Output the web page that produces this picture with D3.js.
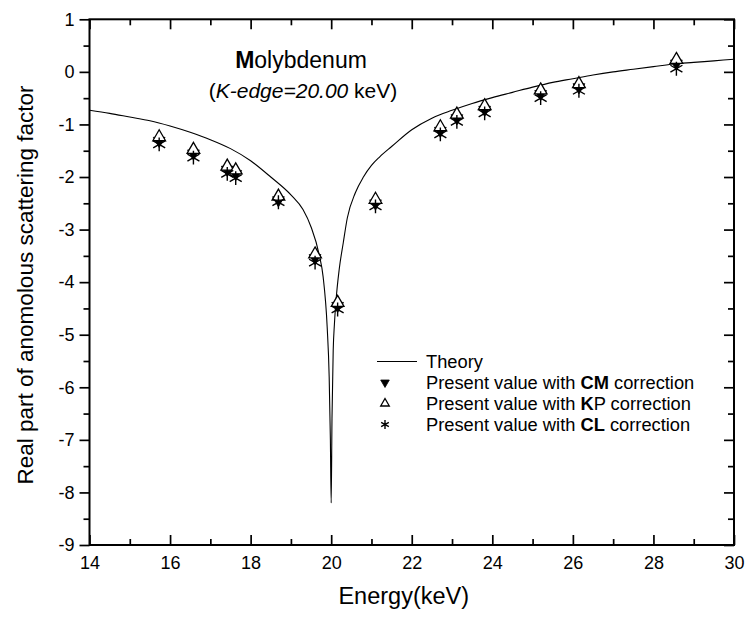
<!DOCTYPE html>
<html>
<head>
<meta charset="utf-8">
<script src="https://cdn.jsdelivr.net/npm/d3@7"></script>
<style>
  body { margin: 0; background: #fff; }
  svg text { font-family: "Liberation Sans", Arial, Helvetica, sans-serif; fill: #000; }
</style>
</head>
<body>
<svg id="chart" width="751" height="618"></svg>
<script>
// Measured energies (keV)
const energies = [15.73, 16.58, 17.42, 17.63, 18.69, 19.60, 20.16, 21.10, 22.71, 23.12, 23.81, 25.20, 26.15, 28.57];
// f' values with the three corrections
const cmValues = [-1.31, -1.55, -1.86, -1.94, -2.44, -3.54, -4.45, -2.50, -1.12, -0.88, -0.72, -0.42, -0.29, 0.16];
const kpValues = [-1.24, -1.48, -1.80, -1.87, -2.37, -3.47, -4.39, -2.43, -1.05, -0.81, -0.65, -0.35, -0.23, 0.23];
const clValues = [-1.38, -1.63, -1.94, -2.02, -2.48, -3.63, -4.52, -2.56, -1.19, -0.95, -0.79, -0.50, -0.36, 0.06];

// Theoretical curve around the Mo K-edge
const theoryEnergy = [14.0, 14.5, 15.0, 15.5, 16.0, 16.5, 17.0, 17.5, 18.0, 18.5, 19.0, 19.3, 19.5, 19.7, 19.8, 19.9, 19.95, 19.98, 20.0,
                      20.02, 20.05, 20.08, 20.12, 20.2, 20.3, 20.4, 20.6, 20.8, 21.0, 21.2, 21.5, 22.0, 22.5, 23.0, 23.5, 24.0,
                      24.5, 25.0, 25.5, 26.0, 26.5, 27.0, 27.5, 28.0, 28.5, 29.0, 29.5, 30.0];
const theoryValue = [-0.73, -0.79, -0.86, -0.93, -1.03, -1.15, -1.29, -1.46, -1.69, -2.00, -2.34, -2.62, -2.95, -3.47, -3.90, -4.85, -5.8, -7.0, -8.2,
                     -6.6, -5.3, -4.8, -4.35, -3.75, -3.25, -2.78, -2.30, -2.00, -1.78, -1.62, -1.42, -1.10, -0.88, -0.73, -0.60, -0.49,
                     -0.39, -0.29, -0.20, -0.13, -0.06, 0.00, 0.05, 0.10, 0.15, 0.18, 0.21, 0.24];

const xMajorTicks = [14, 16, 18, 20, 22, 24, 26, 28, 30];
const xMinorTicks = [15, 17, 19, 21, 23, 25, 27, 29];
const yMajorTicks = [1, 0, -1, -2, -3, -4, -5, -6, -7, -8, -9];
const yMinorTicks = [0.5, -0.5, -1.5, -2.5, -3.5, -4.5, -5.5, -6.5, -7.5, -8.5];

const legendLabels = [
  { kind: "line", parts: [["Theory", false]] },
  { kind: "cm", parts: [["Present value with ", false], ["CM", true], [" correction", false]] },
  { kind: "kp", parts: [["Present value with ", false], ["K", true], ["P correction", false]] },
  { kind: "cl", parts: [["Present value with ", false], ["CL", true], [" correction", false]] }
];

const svg = d3.select("#chart");
const plot = { left: 89.5, right: 734, top: 19.3, bottom: 545 };

const x = d3.scaleLinear().domain([14, 30]).range([plot.left, plot.right]);
const y = d3.scaleLinear().domain([-9, 1]).range([plot.bottom, plot.top]);

const fontTick = 18;

// ---- axes ----
function styleAxis(g) {
  g.select(".domain").remove();
  g.selectAll(".tick line").attr("stroke", "#000").attr("stroke-width", 1.7);
  g.selectAll(".tick text").style("font-size", fontTick + "px");
}

// bottom: inward ticks with labels
svg.append("g").attr("transform", `translate(0,${plot.bottom})`)
  .call(d3.axisBottom(x).tickValues(xMajorTicks).tickSize(-10).tickPadding(11).tickFormat(d3.format("d")))
  .call(styleAxis);
svg.append("g").attr("transform", `translate(0,${plot.bottom})`)
  .call(d3.axisBottom(x).tickValues(xMinorTicks).tickSize(-6).tickFormat(""))
  .call(styleAxis);
// top: inward ticks
svg.append("g").attr("transform", `translate(0,${plot.top})`)
  .call(d3.axisTop(x).tickValues(xMajorTicks).tickSize(-10).tickFormat(""))
  .call(styleAxis);
svg.append("g").attr("transform", `translate(0,${plot.top})`)
  .call(d3.axisTop(x).tickValues(xMinorTicks).tickSize(-6).tickFormat(""))
  .call(styleAxis);
// left: outward ticks with labels
svg.append("g").attr("transform", `translate(${plot.left},0)`)
  .call(d3.axisLeft(y).tickValues(yMajorTicks).tickSize(10).tickPadding(5).tickFormat(d3.format("d")))
  .call(styleAxis);
svg.append("g").attr("transform", `translate(${plot.left},0)`)
  .call(d3.axisLeft(y).tickValues(yMinorTicks).tickSize(6).tickFormat(""))
  .call(styleAxis);
// right: inward ticks
svg.append("g").attr("transform", `translate(${plot.right},0)`)
  .call(d3.axisRight(y).tickValues(yMajorTicks).tickSize(-10).tickFormat(""))
  .call(styleAxis);
svg.append("g").attr("transform", `translate(${plot.right},0)`)
  .call(d3.axisRight(y).tickValues(yMinorTicks).tickSize(-6).tickFormat(""))
  .call(styleAxis);

// plain hyphen-minus for negative tick labels
svg.selectAll(".tick text").text(function () { return d3.select(this).text().replace("\u2212", "-"); });

// frame
svg.append("rect")
  .attr("x", plot.left).attr("y", plot.top)
  .attr("width", plot.right - plot.left).attr("height", plot.bottom - plot.top)
  .attr("fill", "none").attr("stroke", "#000").attr("stroke-width", 2);

// axis titles
svg.append("text")
  .attr("x", (plot.left + plot.right) / 2 - 8).attr("y", 604)
  .attr("text-anchor", "middle").style("font-size", "23.5px")
  .text("Energy(keV)");
svg.append("text")
  .attr("transform", `translate(33,285) rotate(-90)`)
  .attr("text-anchor", "middle").style("font-size", "22.5px")
  .text("Real part of anomolous scattering factor");

// ---- theory curve ----
const theory = theoryEnergy.map((e, i) => [e, theoryValue[i]]);
svg.append("path")
  .datum(theory)
  .attr("fill", "none").attr("stroke", "#000").attr("stroke-width", 1.1)
  .attr("d", d3.line().x(d => x(d[0])).y(d => y(d[1])).curve(d3.curveMonotoneX));

// ---- symbols ----
const downTri = d3.symbol().type(d3.symbolTriangle);
const upTri = d3.symbol().type(d3.symbolTriangle);
const star = d3.symbol().type(d3.symbolAsterisk);

function drawCM(g, cx, cy, size) {
  g.append("path").attr("d", downTri.size(size)())
    .attr("transform", `translate(${cx},${cy}) rotate(180)`)
    .attr("fill", "#000").attr("stroke", "#000").attr("stroke-width", 0.8);
}
function drawKP(g, cx, cy, size) {
  g.append("path").attr("d", upTri.size(size)())
    .attr("transform", `translate(${cx},${cy})`)
    .attr("fill", "#fff").attr("stroke", "#000").attr("stroke-width", 1.3);
}
function drawCL(g, cx, cy, size) {
  g.append("path").attr("d", star.size(size)())
    .attr("transform", `translate(${cx},${cy})`)
    .attr("fill", "none").attr("stroke", "#000").attr("stroke-width", 1.4);
}

const marks = svg.append("g");
energies.forEach((e, i) => drawCM(marks, x(e), y(cmValues[i]), 60));
energies.forEach((e, i) => drawKP(marks, x(e), y(kpValues[i]), 70));
energies.forEach((e, i) => drawCL(marks, x(e), y(clValues[i]), 135));

// ---- title ----
const title = svg.append("text").attr("x", 301).attr("y", 68)
  .attr("text-anchor", "middle").style("font-size", "23px");
title.append("tspan").attr("font-weight", "bold").text("M");
title.append("tspan").text("olybdenum");

const sub = svg.append("text").attr("x", 303).attr("y", 98)
  .attr("text-anchor", "middle").style("font-size", "21px");
sub.append("tspan").text("(");
sub.append("tspan").attr("font-style", "italic").text("K-edge=20.00");
sub.append("tspan").text(" keV)");

// ---- legend ----
const legend = svg.append("g");
const rowY = [361.5, 382.5, 403.5, 424.5];
legendLabels.forEach((item, i) => {
  const cy = rowY[i];
  if (item.kind === "line") {
    legend.append("line").attr("x1", 377).attr("x2", 417).attr("y1", cy).attr("y2", cy)
      .attr("stroke", "#000").attr("stroke-width", 1.1);
  } else if (item.kind === "cm") {
    drawCM(legend, 385, cy, 32);
  } else if (item.kind === "kp") {
    drawKP(legend, 385, cy, 32);
  } else {
    drawCL(legend, 385, cy, 55);
  }
  const t = legend.append("text").attr("x", 426).attr("y", cy + 6.5).style("font-size", "18.3px");
  item.parts.forEach(([s, bold]) => {
    const sp = t.append("tspan").text(s);
    if (bold) sp.attr("font-weight", "bold");
  });
});
</script>
</body>
</html>
